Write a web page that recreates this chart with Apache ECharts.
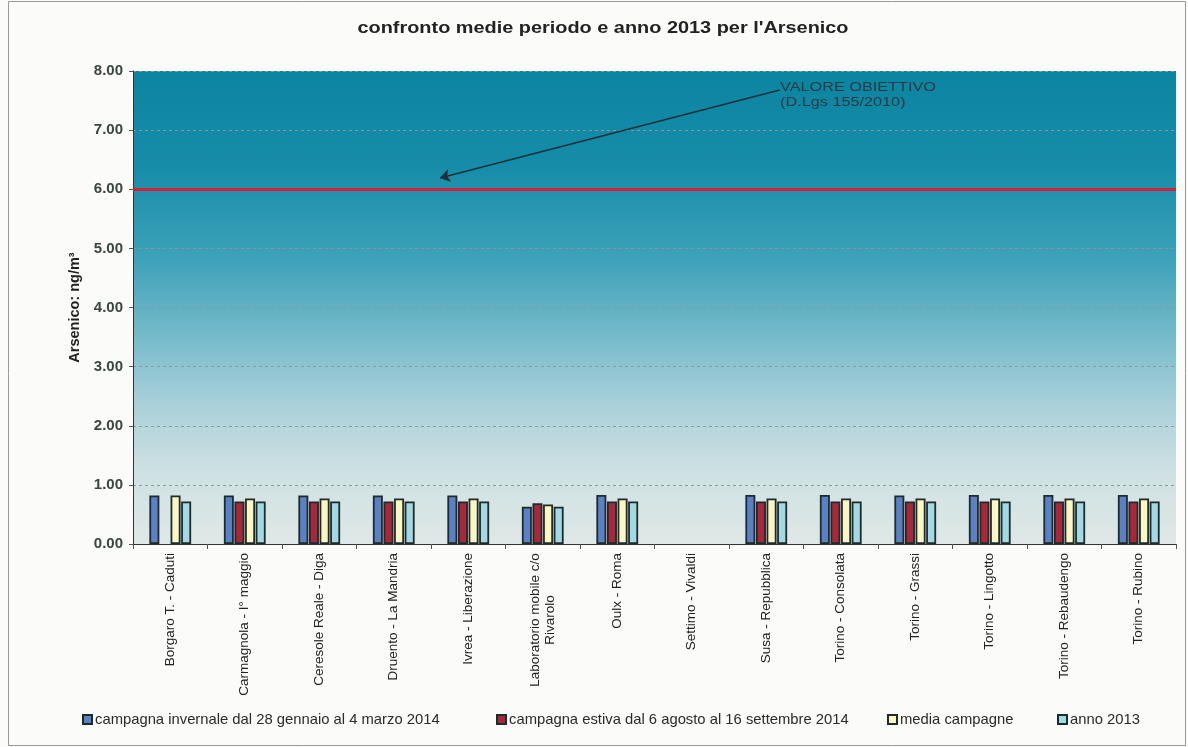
<!DOCTYPE html>
<html><head><meta charset="utf-8">
<script src="https://cdn.jsdelivr.net/npm/echarts@6/dist/echarts.min.js"></script>
<style>html,body{margin:0;padding:0;background:#fbfbfa;}#c{width:1188px;height:747px;}</style>
</head><body><div id="c"></div>
<script>
const categories = ["Borgaro T. - Caduti","Carmagnola - I° maggio","Ceresole Reale - Diga","Druento - La Mandria","Ivrea - Liberazione","Laboratorio mobile c/o\nRivarolo","Oulx - Roma","Settimo - Vivaldi","Susa - Repubblica","Torino - Consolata","Torino - Grassi","Torino - Lingotto","Torino - Rebaudengo","Torino - Rubino"];
const invernale = [0.82,0.82,0.82,0.82,0.82,0.63,0.83,null,0.83,0.83,0.82,0.83,0.83,0.83];
const estiva    = [null,0.72,0.72,0.72,0.72,0.69,0.72,null,0.72,0.72,0.72,0.72,0.72,0.72];
const media     = [0.82,0.77,0.77,0.77,0.77,0.67,0.77,null,0.77,0.77,0.77,0.77,0.77,0.77];
const anno2013  = [0.72,0.72,0.72,0.72,0.72,0.63,0.72,null,0.72,0.72,0.72,0.72,0.72,0.72];
const seriesNames = ["campagna invernale dal 28 gennaio al 4 marzo 2014","campagna estiva dal 6 agosto al 16 settembre 2014","media campagne","anno 2013"];
const yTicks = [0,1,2,3,4,5,6,7,8];
const valoreObiettivo = 6;
const arrowFrom = [8.68, 7.68], arrowTo = [4.12, 6.19];

const colors = ['#5a80c6','#a8283a','#fbf6c2','#a2d9e4'];
const font = 'Liberation Sans';
const xFontSize = 13.5;
const cnv = document.createElement('canvas').getContext('2d');
cnv.font = xFontSize + 'px "Liberation Sans"';
let multiW = 0;
categories.forEach(c=>{ if(c.includes('\n')) c.split('\n').forEach(l=>{ multiW = Math.max(multiW, cnv.measureText(l).width); }); });
function centerLines(s){
  const lines = s.split('\n');
  if (lines.length < 2) return s;
  return lines.map(l=>'{c|'+l+'}').join('\n');
}
const chart = echarts.init(document.getElementById('c'));
const data = [invernale, estiva, media, anno2013];
const series = data.map((d,i)=>({
  name: seriesNames[i], type:'bar', data:d, barWidth:10, barGap:'6%',
  itemStyle:{color:colors[i], borderColor:'#1d2b2b', borderWidth:1.8},
  xAxisIndex:0, yAxisIndex:0
}));
series[0].markLine = {
  silent:true, symbol:'none', label:{show:false},
  lineStyle:{color:'#d42038', width:3, type:'solid'},
  data:[{yAxis:valoreObiettivo}]
};
series.push({
  type:'line', xAxisIndex:1, yAxisIndex:0, data:[], silent:true,
  markLine:{silent:true, symbol:['none','arrow'], symbolSize:10, label:{show:false},
    lineStyle:{color:'#1c3038', width:1.5, type:'solid'},
    data:[[{coord:arrowFrom},{coord:arrowTo}]]}
});
const legendLeft = [82, 496, 887, 1057];
const legends = seriesNames.map((n,i)=>({
  data:[n], left:legendLeft[i], top:712, itemWidth:9, itemHeight:9, itemGap:0,
  icon:'rect', textStyle:{fontFamily:font, fontSize:14.8, color:'#2a2a2a', padding:[0,0,0,-2]}, padding:0
}));
chart.setOption({
  animation:false,
  backgroundColor:'#fbfbfa',
  legend: legends,
  grid:{left:133, right:12, top:71, bottom:203, show:true, borderWidth:0,
    backgroundColor:new echarts.graphic.LinearGradient(0,0,0,1,[
      {offset:0,color:'#0c85a2'},{offset:0.2,color:'#168ca8'},{offset:0.4,color:'#3ea2ba'},
      {offset:0.55,color:'#72b9c9'},{offset:0.7,color:'#a8d0d9'},{offset:0.85,color:'#cfe1e3'},{offset:1,color:'#dfe8e6'}])},
  xAxis:[{type:'category', data:categories,
    axisLine:{lineStyle:{color:'#333',width:1}},
    axisTick:{show:true, length:5, lineStyle:{color:'#555'}},
    axisLabel:{rotate:90, interval:0, fontFamily:font, fontSize:xFontSize, color:'#222', margin:9, lineHeight:15,
      formatter:centerLines,
      rich:{c:{width:Math.ceil(multiW), align:'center', fontFamily:font, fontSize:xFontSize, color:'#222', lineHeight:15}}}},
   {type:'value', min:0, max:14, show:false}],
  yAxis:{type:'value', min:0, max:8, interval:1,
    name:'Arsenico: ng/m³', nameLocation:'middle', nameGap:51, nameRotate:90,
    nameTextStyle:{fontFamily:font, fontSize:14.5, fontWeight:'bold', color:'#222'},
    axisLine:{show:true, lineStyle:{color:'#333'}},
    axisTick:{show:true, length:4, lineStyle:{color:'#555'}},
    axisLabel:{formatter:v=>v.toFixed(2), fontFamily:font, fontSize:15, fontWeight:'bold', color:'#3a4640', margin:10},
    splitLine:{show:true, lineStyle:{color:'#8a9a9a', type:[3,3], width:1}}},
  series: series,
  graphic:[
    {type:'rect', shape:{x:8.5,y:1.5,width:1177,height:744}, style:{fill:'none', stroke:'#999', lineWidth:1}, silent:true},
    {type:'text', x:603, y:28, scaleX:1.17, style:{text:"confronto medie periodo e anno 2013 per l'Arsenico",
      fill:'#222', font:'bold 17px "Liberation Sans"', textAlign:'center', textVerticalAlign:'middle'}},
    {type:'text', x:780, y:80, scaleX:1.3, style:{text:'VALORE OBIETTIVO\n(D.Lgs 155/2010)', fill:'#2a3a40', font:'12.5px "Liberation Sans"', lineHeight:15}}
  ]
});
</script></body></html>
